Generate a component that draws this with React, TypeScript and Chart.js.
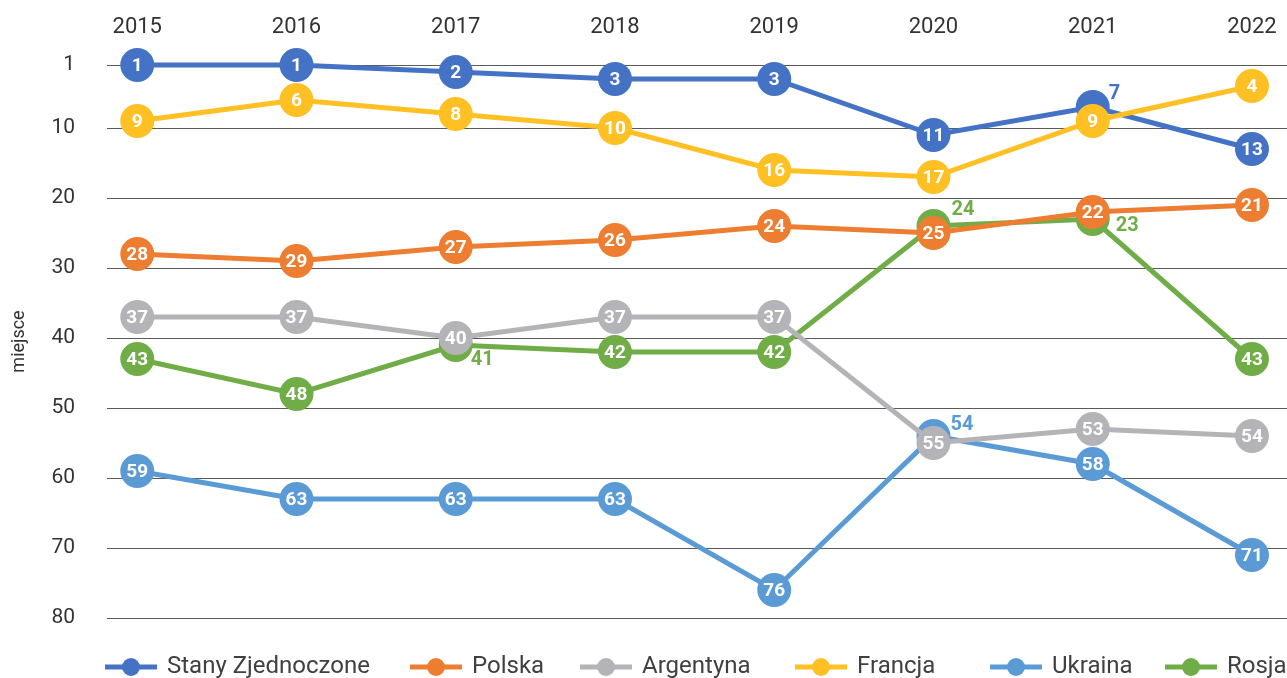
import React, { useEffect, useRef } from "react";
import { Chart, registerables } from "chart.js";

Chart.register(...registerables);

const years = [2015, 2016, 2017, 2018, 2019, 2020, 2021, 2022];
const yTicks = [1, 10, 20, 30, 40, 50, 60, 70, 80];

const stanyZjednoczone = [1, 1, 2, 3, 3, 11, 7, 13];
const polska = [28, 29, 27, 26, 24, 25, 22, 21];
const argentyna = [37, 37, 40, 37, 37, 55, 53, 54];
const francja = [9, 6, 8, 10, 16, 17, 9, 4];
const ukraina = [59, 63, 63, 63, 76, 54, 58, 71];
const rosja = [43, 48, 41, 42, 42, 24, 23, 43];

const seriesNames = ["Stany Zjednoczone", "Polska", "Argentyna", "Francja", "Ukraina", "Rosja"];
const seriesValues = [stanyZjednoczone, polska, argentyna, francja, ukraina, rosja];
const seriesColors = ["#4472C4", "#ED7D31", "#B4B4B8", "#FFC024", "#5B9BD5", "#70AD47"];
const drawOrder = [4, 3, 2, 1, 5, 6];

// labels of hidden points drawn beside the marker (style config)
const outsideLabels: { s: number; i: number; dx: number; dy: number }[] = [
  { s: 0, i: 6, dx: 16, dy: -13 },
  { s: 5, i: 2, dx: 15, dy: 15 },
  { s: 5, i: 5, dx: 18, dy: -16 },
  { s: 5, i: 6, dx: 23, dy: 7 },
  { s: 4, i: 5, dx: 17, dy: -11 },
];
const legendX = [105, 410, 580, 795, 990, 1165];

const FONT = "Roboto, 'Open Sans', sans-serif";

export default function App() {
  const ref = useRef<HTMLCanvasElement>(null);
  useEffect(() => {
    document.body.style.margin = "0";
    const canvas = ref.current!;
    const labelPlugin = {
      id: "pointLabels",
      afterDatasetDraw(chart: any, args: any) {
        const ctx = chart.ctx;
        const s = args.index;
        const meta = args.meta;
        ctx.save();
        meta.data.forEach((pt: any, i: number) => {
          const v = seriesValues[s][i];
          const out = outsideLabels.find((o) => o.s === s && o.i === i);
          if (out) {
            ctx.font = `bold 20px ${FONT}`;
            ctx.fillStyle = seriesColors[s];
            ctx.textAlign = "left";
            ctx.textBaseline = "middle";
            ctx.fillText(String(v), pt.x + out.dx, pt.y + out.dy);
          } else {
            ctx.font = `bold 19px ${FONT}`;
            ctx.fillStyle = "#ffffff";
            ctx.textAlign = "center";
            ctx.textBaseline = "middle";
            ctx.fillText(String(v), pt.x, pt.y + 1);
          }
        });
        ctx.restore();
      },
    };
    const legendPlugin = {
      id: "customLegend",
      afterDraw(chart: any) {
        const ctx = chart.ctx;
        const y = 667;
        ctx.save();
        seriesNames.forEach((name, k) => {
          const x = legendX[k];
          ctx.strokeStyle = seriesColors[k];
          ctx.lineWidth = 5;
          ctx.beginPath();
          ctx.moveTo(x, y);
          ctx.lineTo(x + 52, y);
          ctx.stroke();
          ctx.fillStyle = seriesColors[k];
          ctx.beginPath();
          ctx.arc(x + 26, y, 9, 0, Math.PI * 2);
          ctx.fill();
          ctx.font = `24px ${FONT}`;
          ctx.fillStyle = "#404040";
          ctx.textAlign = "left";
          ctx.textBaseline = "middle";
          ctx.fillText(name, x + 62, y);
        });
        ctx.restore();
      },
    };
    const chart = new Chart(canvas, {
      type: "line",
      data: {
        datasets: seriesNames.map((name, k) => ({
          label: name,
          data: years.map((yr, i) => ({ x: yr, y: seriesValues[k][i] })),
          borderColor: seriesColors[k],
          backgroundColor: seriesColors[k],
          pointBackgroundColor: seriesColors[k],
          pointBorderWidth: 0,
          pointRadius: 17,
          pointHoverRadius: 17,
          borderWidth: 5,
          tension: 0,
          clip: false as any,
          order: drawOrder[k],
        })),
      },
      plugins: [labelPlugin, legendPlugin],
      options: {
        responsive: false,
        animation: false,
        layout: { autoPadding: false, padding: { left: 0, right: 0, top: 0, bottom: 60 } },
        plugins: {
          legend: { display: false },
          tooltip: { enabled: false },
        },
        scales: {
          x: {
            type: "linear",
            position: "top",
            min: 2014.81,
            max: 2022.22,
            afterBuildTicks: (scale: any) => {
              scale.ticks = years.map((v) => ({ value: v }));
            },
            afterFit: (scale: any) => {
              scale.height = 65;
              scale.paddingLeft = 0;
              scale.paddingRight = 0;
            },
            ticks: {
              callback: (v: any) => String(v),
              font: { family: FONT, size: 22 },
              color: "#333333",
              padding: 24,
              maxRotation: 0,
              autoSkip: false,
            },
            grid: { display: false, drawTicks: false },
            border: { display: false },
          },
          y: {
            type: "linear",
            reverse: true,
            min: 1,
            max: 80,
            afterBuildTicks: (scale: any) => {
              scale.ticks = yTicks.map((v) => ({ value: v }));
            },
            afterFit: (scale: any) => {
              scale.width = 107;
              scale.paddingTop = 0;
              scale.paddingBottom = 0;
            },
            ticks: {
              font: { family: FONT, size: 21 },
              color: "#333333",
              padding: 32,
              autoSkip: false,
            },
            grid: { color: "#5a5a5a", lineWidth: 1, drawTicks: false },
            border: { display: false },
            title: {
              display: true,
              text: "miejsce",
              font: { family: FONT, size: 18 },
              color: "#333333",
              padding: { top: 9, bottom: 0 },
            },
          },
        },
      },
    });
    return () => chart.destroy();
  }, []);
  return (
    <div style={{ position: "fixed", left: 0, top: 0, width: 1287, height: 678 }}>
      <canvas ref={ref} width={1287} height={678} />
    </div>
  );
}
